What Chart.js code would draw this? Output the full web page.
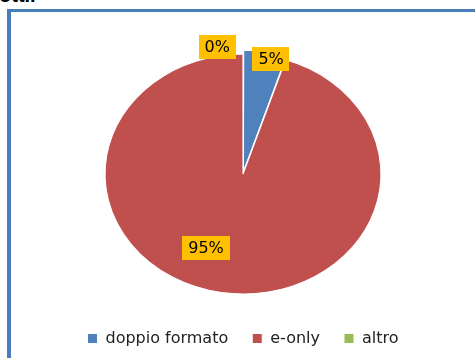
<!DOCTYPE html>
<html>
<head>
<meta charset="utf-8">
<script src="https://cdn.jsdelivr.net/npm/chart.js@4.4.1/dist/chart.umd.min.js"></script>
<style>
  html, body { margin: 0; padding: 0; background: #fff; overflow: hidden; }
  #wrap { position: relative; width: 475px; height: 358px; }
  #heading { position: absolute; left: -1px; top: -15.5px; font: bold 20px "Liberation Sans", sans-serif; line-height: 20px; color: #000; }
  #frame { position: absolute; left: 7px; top: 9px; right: 0; bottom: 0; border-left: 4px solid #4a7ebb; border-top: 3px solid #4a7ebb; }
  canvas { position: absolute; left: 0; top: 0; }
</style>
</head>
<body>
<div id="wrap">
  <div id="heading">otti.</div>
  <div id="frame"></div>
  <canvas id="formatChart" width="475" height="358"></canvas>
</div>
<script>
const categories = ['doppio formato', 'e-only', 'altro'];
const shares = [5, 95, 0];
const sliceColors = ['#4f81bd', '#c0504d', '#9bbb59'];

// where each percentage tag sits: [degrees from slice middle, fraction of radius]
const labelPlacement = [[3, 0.98], [14.6, 0.67], [-10, 1.075]];

// the pie is drawn squashed into an ellipse, wider than tall
const stretchX = 1.15;

Chart.defaults.font.family = '"DejaVu Sans", sans-serif';

const ellipsePlugin = {
  id: 'ellipse',
  beforeDatasetsDraw(chart) {
    const arc = chart.getDatasetMeta(0).data[0];
    const ctx = chart.ctx;
    ctx.save();
    ctx.translate(arc.x, arc.y);
    ctx.scale(stretchX, 1);
    ctx.translate(-arc.x, -arc.y);
  },
  afterDatasetsDraw(chart) {
    const ctx = chart.ctx;
    ctx.restore();

    const total = shares.reduce((a, b) => a + b, 0);
    const arcs = chart.getDatasetMeta(0).data;
    ctx.save();
    ctx.font = '16px "DejaVu Sans"';
    ctx.textAlign = 'center';
    ctx.textBaseline = 'middle';
    arcs.forEach((arc, i) => {
      const text = Math.round(shares[i] / total * 100) + '%';
      const shift = labelPlacement[i][0] * Math.PI / 180;
      const dist = labelPlacement[i][1];
      const a = (arc.startAngle + arc.endAngle) / 2 + shift;
      const x = arc.x + Math.cos(a) * arc.outerRadius * dist * stretchX;
      const y = arc.y + Math.sin(a) * arc.outerRadius * dist;
      const w = ctx.measureText(text).width + 12;
      ctx.fillStyle = '#ffc000';
      ctx.fillRect(Math.round(x - w / 2), Math.round(y - 12), Math.round(w), 24);
      ctx.fillStyle = '#000';
      ctx.fillText(text, x, y + 1);
    });
    ctx.restore();
  }
};

var ctx = document.getElementById('formatChart');

var formatChart = new Chart(ctx, {
  type: 'pie',
  data: {
    labels: categories,
    datasets: [{
      data: shares,
      backgroundColor: sliceColors,
      borderColor: '#ffffff',
      borderWidth: 1,
      offset: [9, 0, 0],
      hoverOffset: 0,
      radius: 120,
      clip: false
    }]
  },
  options: {
    responsive: false,
    animation: false,
    devicePixelRatio: 1,
    layout: {
      padding: { left: 60, right: 49, top: 41.5, bottom: 1.5 }
    },
    plugins: {
      tooltip: { enabled: false },
      legend: {
        position: 'bottom',
        align: 'center',
        labels: {
          boxWidth: 10,
          boxHeight: 10,
          padding: 24,
          color: '#222',
          font: { size: 16 }
        }
      }
    }
  },
  plugins: [ellipsePlugin]
});
</script>
</body>
</html>
